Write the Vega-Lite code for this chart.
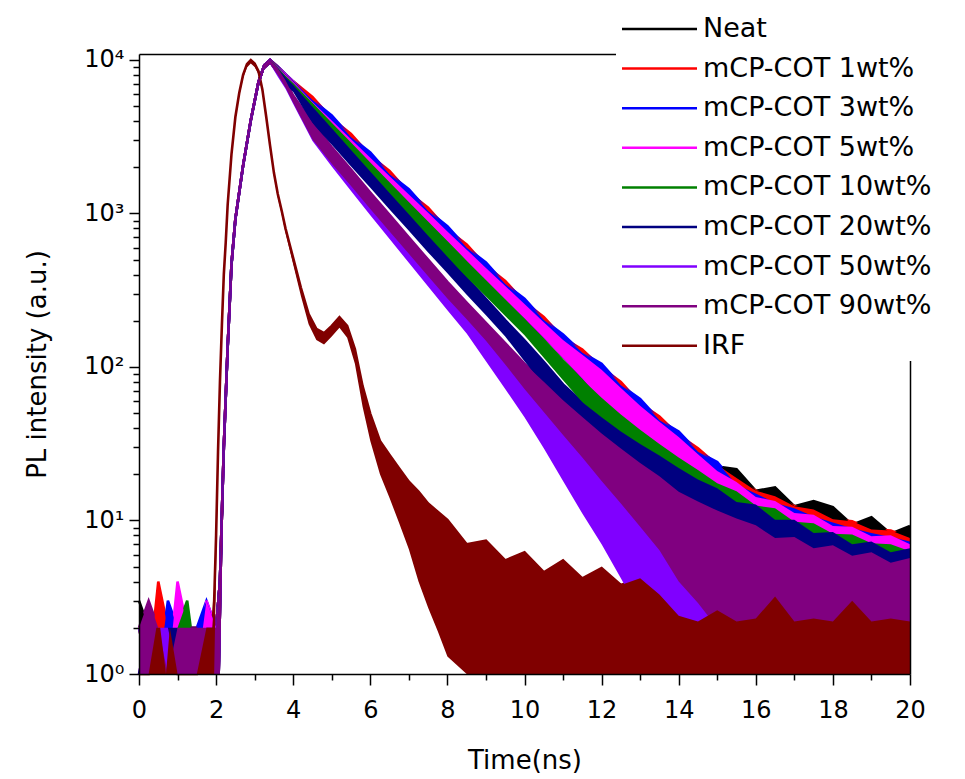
{
"$schema": "https://vega.github.io/schema/vega-lite/v6.json",
"width": 771, "height": 620,
"autosize": "none",
"padding": {"left": 139, "top": 54, "right": 55, "bottom": 105},
"background": "white",
"config": {"view": {"stroke": null}, "axis": {"grid": false}},
"data": {"values": [
{"s":"Neat","t":0,"h":3,"l":1},{"s":"Neat","t":0.25,"h":2,"l":1},{"s":"Neat","t":0.5,"h":1,"l":1},{"s":"Neat","t":0.75,"h":2,"l":1},{"s":"Neat","t":1,"h":1,"l":1},{"s":"Neat","t":1.25,"h":2,"l":1},{"s":"Neat","t":1.5,"h":2,"l":1},{"s":"Neat","t":1.75,"h":1,"l":1},
{"s":"Neat","t":2,"h":2,"l":1},{"s":"Neat","t":2.1,"h":4,"l":1},{"s":"Neat","t":2.2,"h":30,"l":20},{"s":"Neat","t":2.3,"h":135,"l":110},{"s":"Neat","t":2.4,"h":470,"l":420},{"s":"Neat","t":2.5,"h":920,"l":840},{"s":"Neat","t":2.7,"h":2050,"l":1900},{"s":"Neat","t":2.9,"h":4050,"l":3800},{"s":"Neat","t":3.1,"h":7200,"l":6700},{"s":"Neat","t":3.25,"h":9250,"l":8700},{"s":"Neat","t":3.4,"h":10000,"l":9400},
{"s":"Neat","t":3.6,"h":8790,"l":8150},{"s":"Neat","t":3.8,"h":7840,"l":7270},{"s":"Neat","t":4,"h":7040,"l":6530},{"s":"Neat","t":4.5,"h":5160,"l":4270},{"s":"Neat","t":5,"h":3910,"l":3240},{"s":"Neat","t":5.5,"h":2960,"l":2450},{"s":"Neat","t":6,"h":2240,"l":1860},{"s":"Neat","t":6.5,"h":1700,"l":1400},{"s":"Neat","t":7,"h":1290,"l":1070},{"s":"Neat","t":7.5,"h":980,"l":811},{"s":"Neat","t":8,"h":740,"l":614},{"s":"Neat","t":8.5,"h":564,"l":467},{"s":"Neat","t":9,"h":429,"l":356},{"s":"Neat","t":9.5,"h":327,"l":271},{"s":"Neat","t":10,"h":249,"l":207},{"s":"Neat","t":10.5,"h":190,"l":155},{"s":"Neat","t":11,"h":146,"l":114},{"s":"Neat","t":11.5,"h":116,"l":84},{"s":"Neat","t":12,"h":93,"l":60},{"s":"Neat","t":12.5,"h":71,"l":44},{"s":"Neat","t":13,"h":54,"l":31},{"s":"Neat","t":13.5,"h":43,"l":22},{"s":"Neat","t":14,"h":33,"l":15.2},{"s":"Neat","t":14.5,"h":26,"l":10.7},{"s":"Neat","t":15,"h":22.5,"l":7.6},{"s":"Neat","t":15.5,"h":21.6,"l":5.6},{"s":"Neat","t":16,"h":15.6,"l":4.2},{"s":"Neat","t":16.5,"h":16.4,"l":3.1},{"s":"Neat","t":17,"h":12.4,"l":2.4},{"s":"Neat","t":17.5,"h":13.4,"l":1.8},{"s":"Neat","t":18,"h":12.2,"l":1.3},{"s":"Neat","t":18.5,"h":9.4,"l":1},{"s":"Neat","t":19,"h":10.5,"l":1},{"s":"Neat","t":19.5,"h":8.2,"l":1},{"s":"Neat","t":20,"h":9.2,"l":1},

{"s":"1","t":0,"h":2,"l":1},{"s":"1","t":0.25,"h":1,"l":1},{"s":"1","t":0.5,"h":4,"l":1},{"s":"1","t":0.75,"h":2,"l":1},{"s":"1","t":1,"h":1,"l":1},{"s":"1","t":1.25,"h":2,"l":1},{"s":"1","t":1.5,"h":1,"l":1},{"s":"1","t":1.75,"h":2,"l":1},
{"s":"1","t":2,"h":2,"l":1},{"s":"1","t":2.1,"h":4,"l":1},{"s":"1","t":2.2,"h":30,"l":20},{"s":"1","t":2.3,"h":135,"l":110},{"s":"1","t":2.4,"h":470,"l":420},{"s":"1","t":2.5,"h":920,"l":840},{"s":"1","t":2.7,"h":2050,"l":1900},{"s":"1","t":2.9,"h":4050,"l":3800},{"s":"1","t":3.1,"h":7200,"l":6700},{"s":"1","t":3.25,"h":9250,"l":8700},{"s":"1","t":3.4,"h":10000,"l":9400},
{"s":"1","t":3.6,"h":9060,"l":8150},{"s":"1","t":3.8,"h":8080,"l":7270},{"s":"1","t":4,"h":7260,"l":6530},{"s":"1","t":4.5,"h":5750,"l":4270},{"s":"1","t":5,"h":4150,"l":3240},{"s":"1","t":5.5,"h":3300,"l":2450},{"s":"1","t":6,"h":2380,"l":1860},{"s":"1","t":6.5,"h":1890,"l":1400},{"s":"1","t":7,"h":1370,"l":1070},{"s":"1","t":7.5,"h":1090,"l":811},{"s":"1","t":8,"h":787,"l":614},{"s":"1","t":8.5,"h":629,"l":467},{"s":"1","t":9,"h":456,"l":356},{"s":"1","t":9.5,"h":364,"l":271},{"s":"1","t":10,"h":265,"l":207},{"s":"1","t":10.5,"h":212,"l":155},{"s":"1","t":11,"h":155,"l":114},{"s":"1","t":11.5,"h":130,"l":84},{"s":"1","t":12,"h":99,"l":60},{"s":"1","t":12.5,"h":80,"l":44},{"s":"1","t":13,"h":58,"l":31},{"s":"1","t":13.5,"h":47.5,"l":22},{"s":"1","t":14,"h":36,"l":15.2},{"s":"1","t":14.5,"h":29.5,"l":10.7},{"s":"1","t":15,"h":23,"l":7.6},{"s":"1","t":15.5,"h":18.9,"l":5.6},{"s":"1","t":16,"h":15.6,"l":4.2},{"s":"1","t":16.5,"h":14.4,"l":3.1},{"s":"1","t":17,"h":12.4,"l":2.4},{"s":"1","t":17.5,"h":11.8,"l":1.8},{"s":"1","t":18,"h":10.2,"l":1.3},{"s":"1","t":18.5,"h":9.9,"l":1},{"s":"1","t":19,"h":8.75,"l":1},{"s":"1","t":19.5,"h":8.6,"l":1},{"s":"1","t":20,"h":7.7,"l":1},

{"s":"3","t":0,"h":2,"l":1},{"s":"3","t":0.25,"h":2,"l":1},{"s":"3","t":0.5,"h":1,"l":1},{"s":"3","t":0.75,"h":3,"l":1},{"s":"3","t":1,"h":2,"l":1},{"s":"3","t":1.25,"h":1,"l":1},{"s":"3","t":1.5,"h":2,"l":1},{"s":"3","t":1.75,"h":3,"l":1},
{"s":"3","t":2,"h":2,"l":1},{"s":"3","t":2.1,"h":4,"l":1},{"s":"3","t":2.2,"h":30,"l":20},{"s":"3","t":2.3,"h":135,"l":110},{"s":"3","t":2.4,"h":470,"l":420},{"s":"3","t":2.5,"h":920,"l":840},{"s":"3","t":2.7,"h":2050,"l":1900},{"s":"3","t":2.9,"h":4050,"l":3800},{"s":"3","t":3.1,"h":7200,"l":6700},{"s":"3","t":3.25,"h":9250,"l":8700},{"s":"3","t":3.4,"h":10000,"l":9400},
{"s":"3","t":3.6,"h":9060,"l":8150},{"s":"3","t":3.8,"h":8080,"l":7270},{"s":"3","t":4,"h":7260,"l":6530},{"s":"3","t":4.5,"h":5480,"l":4270},{"s":"3","t":5,"h":4360,"l":3240},{"s":"3","t":5.5,"h":3140,"l":2450},{"s":"3","t":6,"h":2500,"l":1860},{"s":"3","t":6.5,"h":1800,"l":1400},{"s":"3","t":7,"h":1440,"l":1070},{"s":"3","t":7.5,"h":1040,"l":811},{"s":"3","t":8,"h":826,"l":614},{"s":"3","t":8.5,"h":599,"l":467},{"s":"3","t":9,"h":479,"l":356},{"s":"3","t":9.5,"h":347,"l":271},{"s":"3","t":10,"h":278,"l":207},{"s":"3","t":10.5,"h":202,"l":155},{"s":"3","t":11,"h":163,"l":114},{"s":"3","t":11.5,"h":124,"l":84},{"s":"3","t":12,"h":105,"l":60},{"s":"3","t":12.5,"h":76,"l":44},{"s":"3","t":13,"h":62,"l":31},{"s":"3","t":13.5,"h":45,"l":22},{"s":"3","t":14,"h":38,"l":15.2},{"s":"3","t":14.5,"h":28,"l":10.7},{"s":"3","t":15,"h":24,"l":7.6},{"s":"3","t":15.5,"h":17.1,"l":5.6},{"s":"3","t":16,"h":15,"l":4.2},{"s":"3","t":16.5,"h":13,"l":3.1},{"s":"3","t":17,"h":12,"l":2.4},{"s":"3","t":17.5,"h":10.6,"l":1.8},{"s":"3","t":18,"h":9.7,"l":1.3},{"s":"3","t":18.5,"h":8.9,"l":1},{"s":"3","t":19,"h":8.3,"l":1},{"s":"3","t":19.5,"h":7.8,"l":1},{"s":"3","t":20,"h":7.3,"l":1},

{"s":"5","t":0,"h":1,"l":1},{"s":"5","t":0.25,"h":2,"l":1},{"s":"5","t":0.5,"h":2,"l":1},{"s":"5","t":0.75,"h":1,"l":1},{"s":"5","t":1,"h":4,"l":1},{"s":"5","t":1.25,"h":2,"l":1},{"s":"5","t":1.5,"h":1,"l":1},{"s":"5","t":1.75,"h":3,"l":1},
{"s":"5","t":2,"h":2,"l":1},{"s":"5","t":2.1,"h":4,"l":1},{"s":"5","t":2.2,"h":30,"l":20},{"s":"5","t":2.3,"h":135,"l":110},{"s":"5","t":2.4,"h":470,"l":420},{"s":"5","t":2.5,"h":920,"l":840},{"s":"5","t":2.7,"h":2050,"l":1900},{"s":"5","t":2.9,"h":4050,"l":3800},{"s":"5","t":3.1,"h":7200,"l":6700},{"s":"5","t":3.25,"h":9250,"l":8700},{"s":"5","t":3.4,"h":10000,"l":9400},
{"s":"5","t":3.6,"h":9000,"l":8150},{"s":"5","t":3.8,"h":8020,"l":7270},{"s":"5","t":4,"h":7200,"l":6530},{"s":"5","t":4.5,"h":5320,"l":4270},{"s":"5","t":5,"h":4030,"l":3240},{"s":"5","t":5.5,"h":3050,"l":2450},{"s":"5","t":6,"h":2310,"l":1860},{"s":"5","t":6.5,"h":1750,"l":1400},{"s":"5","t":7,"h":1330,"l":1070},{"s":"5","t":7.5,"h":1010,"l":811},{"s":"5","t":8,"h":763,"l":614},{"s":"5","t":8.5,"h":581,"l":467},{"s":"5","t":9,"h":442,"l":356},{"s":"5","t":9.5,"h":337,"l":271},{"s":"5","t":10,"h":257,"l":207},{"s":"5","t":10.5,"h":196,"l":155},{"s":"5","t":11,"h":150,"l":114},{"s":"5","t":11.5,"h":120,"l":84},{"s":"5","t":12,"h":96,"l":60},{"s":"5","t":12.5,"h":73,"l":44},{"s":"5","t":13,"h":56,"l":31},{"s":"5","t":13.5,"h":44,"l":22},{"s":"5","t":14,"h":35,"l":15.2},{"s":"5","t":14.5,"h":27,"l":10.7},{"s":"5","t":15,"h":21,"l":7.6},{"s":"5","t":15.5,"h":17.8,"l":5.6},{"s":"5","t":16,"h":14.2,"l":4.2},{"s":"5","t":16.5,"h":13.4,"l":3.1},{"s":"5","t":17,"h":11.2,"l":2.4},{"s":"5","t":17.5,"h":10.9,"l":1.8},{"s":"5","t":18,"h":9.2,"l":1.3},{"s":"5","t":18.5,"h":9.1,"l":1},{"s":"5","t":19,"h":7.9,"l":1},{"s":"5","t":19.5,"h":8,"l":1},{"s":"5","t":20,"h":7,"l":1},

{"s":"10","t":0,"h":2,"l":1},{"s":"10","t":0.25,"h":1,"l":1},{"s":"10","t":0.5,"h":2,"l":1},{"s":"10","t":0.75,"h":1,"l":1},{"s":"10","t":1,"h":2,"l":1},{"s":"10","t":1.25,"h":3,"l":1},{"s":"10","t":1.5,"h":1,"l":1},{"s":"10","t":1.75,"h":2,"l":1},
{"s":"10","t":2,"h":2,"l":1},{"s":"10","t":2.1,"h":4,"l":1},{"s":"10","t":2.2,"h":30,"l":20},{"s":"10","t":2.3,"h":135,"l":110},{"s":"10","t":2.4,"h":470,"l":420},{"s":"10","t":2.5,"h":920,"l":840},{"s":"10","t":2.7,"h":2050,"l":1900},{"s":"10","t":2.9,"h":4050,"l":3800},{"s":"10","t":3.1,"h":7200,"l":6700},{"s":"10","t":3.25,"h":9250,"l":8700},{"s":"10","t":3.4,"h":10000,"l":9400},
{"s":"10","t":3.6,"h":8950,"l":8060},{"s":"10","t":3.8,"h":7890,"l":7100},{"s":"10","t":4,"h":7090,"l":6380},{"s":"10","t":4.5,"h":5260,"l":4100},{"s":"10","t":5,"h":3900,"l":3040},{"s":"10","t":5.5,"h":2900,"l":2260},{"s":"10","t":6,"h":2150,"l":1680},{"s":"10","t":6.5,"h":1600,"l":1250},{"s":"10","t":7,"h":1190,"l":928},{"s":"10","t":7.5,"h":887,"l":692},{"s":"10","t":8,"h":661,"l":516},{"s":"10","t":8.5,"h":493,"l":385},{"s":"10","t":9,"h":369,"l":288},{"s":"10","t":9.5,"h":276,"l":215},{"s":"10","t":10,"h":207,"l":161},{"s":"10","t":10.5,"h":150,"l":115},{"s":"10","t":11,"h":110,"l":82},{"s":"10","t":11.5,"h":83,"l":59},{"s":"10","t":12,"h":63,"l":43},{"s":"10","t":12.5,"h":49,"l":31},{"s":"10","t":13,"h":39,"l":23},{"s":"10","t":13.5,"h":31.5,"l":16.8},{"s":"10","t":14,"h":25.7,"l":12.3},{"s":"10","t":14.5,"h":21.3,"l":9.1},{"s":"10","t":15,"h":17.5,"l":6.2},{"s":"10","t":15.5,"h":15.5,"l":4.6},{"s":"10","t":16,"h":12.5,"l":3.4},{"s":"10","t":16.5,"h":12,"l":2.5},{"s":"10","t":17,"h":9.8,"l":1.8},{"s":"10","t":17.5,"h":9.6,"l":1.3},{"s":"10","t":18,"h":8.2,"l":1},{"s":"10","t":18.5,"h":8.1,"l":1},{"s":"10","t":19,"h":7.1,"l":1},{"s":"10","t":19.5,"h":7,"l":1},{"s":"10","t":20,"h":6.3,"l":1},

{"s":"20","t":0,"h":1,"l":1},{"s":"20","t":0.25,"h":2,"l":1},{"s":"20","t":0.5,"h":1,"l":1},{"s":"20","t":0.75,"h":2,"l":1},{"s":"20","t":1,"h":2,"l":1},{"s":"20","t":1.25,"h":1,"l":1},{"s":"20","t":1.5,"h":2,"l":1},{"s":"20","t":1.75,"h":1,"l":1},
{"s":"20","t":2,"h":2,"l":1},{"s":"20","t":2.1,"h":4,"l":1},{"s":"20","t":2.2,"h":30,"l":20},{"s":"20","t":2.3,"h":135,"l":110},{"s":"20","t":2.4,"h":470,"l":420},{"s":"20","t":2.5,"h":920,"l":840},{"s":"20","t":2.7,"h":2050,"l":1900},{"s":"20","t":2.9,"h":4050,"l":3800},{"s":"20","t":3.1,"h":7200,"l":6700},{"s":"20","t":3.25,"h":9250,"l":8700},{"s":"20","t":3.4,"h":10000,"l":9400},
{"s":"20","t":3.6,"h":8850,"l":7970},{"s":"20","t":3.8,"h":7720,"l":6950},{"s":"20","t":4,"h":6880,"l":6190},{"s":"20","t":4.5,"h":4950,"l":3860},{"s":"20","t":5,"h":3590,"l":2800},{"s":"20","t":5.5,"h":2590,"l":2020},{"s":"20","t":6,"h":1880,"l":1470},{"s":"20","t":6.5,"h":1360,"l":1060},{"s":"20","t":7,"h":988,"l":771},{"s":"20","t":7.5,"h":715,"l":558},{"s":"20","t":8,"h":523,"l":408},{"s":"20","t":8.5,"h":380,"l":296},{"s":"20","t":9,"h":278,"l":217},{"s":"20","t":9.5,"h":202,"l":158},{"s":"20","t":10,"h":149,"l":109},{"s":"20","t":10.5,"h":108,"l":76},{"s":"20","t":11,"h":77,"l":54},{"s":"20","t":11.5,"h":59,"l":39},{"s":"20","t":12,"h":47,"l":28.8},{"s":"20","t":12.5,"h":38,"l":21.6},{"s":"20","t":13,"h":31.5,"l":16.5},{"s":"20","t":13.5,"h":26.5,"l":12.5},{"s":"20","t":14,"h":22,"l":9.4},{"s":"20","t":14.5,"h":18.5,"l":6.9},{"s":"20","t":15,"h":16.2,"l":5.1},{"s":"20","t":15.5,"h":13.2,"l":3.7},{"s":"20","t":16,"h":12.7,"l":2.6},{"s":"20","t":16.5,"h":10.1,"l":1.8},{"s":"20","t":17,"h":10.1,"l":1.3},{"s":"20","t":17.5,"h":8.3,"l":1},{"s":"20","t":18,"h":8.4,"l":1},{"s":"20","t":18.5,"h":7,"l":1},{"s":"20","t":19,"h":7.3,"l":1},{"s":"20","t":19.5,"h":6.2,"l":1},{"s":"20","t":20,"h":6.6,"l":1},

{"s":"50","t":0,"h":2,"l":1},{"s":"50","t":0.25,"h":1,"l":1},{"s":"50","t":0.5,"h":2,"l":1},{"s":"50","t":0.75,"h":2,"l":1},{"s":"50","t":1,"h":1,"l":1},{"s":"50","t":1.25,"h":2,"l":1},{"s":"50","t":1.5,"h":1,"l":1},{"s":"50","t":1.75,"h":2,"l":1},
{"s":"50","t":2,"h":2,"l":1},{"s":"50","t":2.1,"h":4,"l":1},{"s":"50","t":2.2,"h":30,"l":20},{"s":"50","t":2.3,"h":135,"l":110},{"s":"50","t":2.4,"h":470,"l":420},{"s":"50","t":2.5,"h":920,"l":840},{"s":"50","t":2.7,"h":2050,"l":1900},{"s":"50","t":2.9,"h":4050,"l":3800},{"s":"50","t":3.1,"h":7200,"l":6700},{"s":"50","t":3.25,"h":9250,"l":8700},{"s":"50","t":3.4,"h":10000,"l":9400},
{"s":"50","t":3.6,"h":8650,"l":7790},{"s":"50","t":3.8,"h":7210,"l":6490},{"s":"50","t":4,"h":5730,"l":5160},{"s":"50","t":4.5,"h":3810,"l":2970},{"s":"50","t":5,"h":2590,"l":2020},{"s":"50","t":5.5,"h":1800,"l":1400},{"s":"50","t":6,"h":1250,"l":975},{"s":"50","t":6.5,"h":875,"l":683},{"s":"50","t":7,"h":611,"l":477},{"s":"50","t":7.5,"h":428,"l":334},{"s":"50","t":8,"h":300,"l":234},{"s":"50","t":8.5,"h":212,"l":165},{"s":"50","t":9,"h":149,"l":109},{"s":"50","t":9.5,"h":105,"l":72},{"s":"50","t":10,"h":75,"l":47},{"s":"50","t":10.5,"h":52.5,"l":29.6},{"s":"50","t":11,"h":36.9,"l":18.1},{"s":"50","t":11.5,"h":26.7,"l":11.1},{"s":"50","t":12,"h":19.4,"l":7},{"s":"50","t":12.5,"h":14.5,"l":4.2},{"s":"50","t":13,"h":11.2,"l":2.5},{"s":"50","t":13.5,"h":9.2,"l":1.5},{"s":"50","t":14,"h":7.8,"l":1},{"s":"50","t":14.5,"h":6.7,"l":1},{"s":"50","t":15,"h":6,"l":1},{"s":"50","t":15.5,"h":5.6,"l":1},{"s":"50","t":16,"h":5.3,"l":1},{"s":"50","t":16.5,"h":5.2,"l":1},{"s":"50","t":17,"h":5,"l":1},{"s":"50","t":17.5,"h":4.9,"l":1},{"s":"50","t":18,"h":4.9,"l":1},{"s":"50","t":18.5,"h":4.9,"l":1},{"s":"50","t":19,"h":4.9,"l":1},{"s":"50","t":19.5,"h":4.9,"l":1},{"s":"50","t":20,"h":4.9,"l":1},

{"s":"90","t":0,"h":2,"l":1},{"s":"90","t":0.25,"h":3,"l":1},{"s":"90","t":0.5,"h":2,"l":1},{"s":"90","t":0.75,"h":1,"l":1},{"s":"90","t":1,"h":2,"l":1},{"s":"90","t":1.25,"h":2,"l":1},{"s":"90","t":1.5,"h":2,"l":1},{"s":"90","t":1.75,"h":2,"l":1},
{"s":"90","t":2,"h":2,"l":1},{"s":"90","t":2.1,"h":4,"l":1},{"s":"90","t":2.2,"h":30,"l":20},{"s":"90","t":2.3,"h":135,"l":110},{"s":"90","t":2.4,"h":470,"l":420},{"s":"90","t":2.5,"h":920,"l":840},{"s":"90","t":2.7,"h":2050,"l":1900},{"s":"90","t":2.9,"h":4050,"l":3800},{"s":"90","t":3.1,"h":7200,"l":6700},{"s":"90","t":3.25,"h":9250,"l":8700},{"s":"90","t":3.4,"h":10000,"l":9400},
{"s":"90","t":3.6,"h":8850,"l":7970},{"s":"90","t":3.8,"h":7370,"l":6630},{"s":"90","t":4,"h":5860,"l":5270},{"s":"90","t":4.5,"h":3890,"l":3030},{"s":"90","t":5,"h":2710,"l":2110},{"s":"90","t":5.5,"h":1930,"l":1510},{"s":"90","t":6,"h":1370,"l":1070},{"s":"90","t":6.5,"h":979,"l":764},{"s":"90","t":7,"h":700,"l":546},{"s":"90","t":7.5,"h":500,"l":390},{"s":"90","t":8,"h":358,"l":279},{"s":"90","t":8.5,"h":263,"l":205},{"s":"90","t":9,"h":194,"l":148},{"s":"90","t":9.5,"h":143,"l":104},{"s":"90","t":10,"h":105,"l":72},{"s":"90","t":10.5,"h":80,"l":51},{"s":"90","t":11,"h":60.7,"l":36},{"s":"90","t":11.5,"h":47.2,"l":25.7},{"s":"90","t":12,"h":36.9,"l":18.1},{"s":"90","t":12.5,"h":29.5,"l":12.9},{"s":"90","t":13,"h":23.7,"l":9.1},{"s":"90","t":13.5,"h":19.4,"l":6.4},{"s":"90","t":14,"h":15.4,"l":4},{"s":"90","t":14.5,"h":13.3,"l":2.9},{"s":"90","t":15,"h":11.6,"l":2},{"s":"90","t":15.5,"h":10.3,"l":1.4},{"s":"90","t":16,"h":9.3,"l":1},{"s":"90","t":16.5,"h":7.7,"l":1},{"s":"90","t":17,"h":7.8,"l":1},{"s":"90","t":17.5,"h":6.6,"l":1},{"s":"90","t":18,"h":6.9,"l":1},{"s":"90","t":18.5,"h":5.9,"l":1},{"s":"90","t":19,"h":6.2,"l":1},{"s":"90","t":19.5,"h":5.3,"l":1},{"s":"90","t":20,"h":5.7,"l":1},

{"s":"IRF","t":0,"h":1,"l":1},{"s":"IRF","t":0.25,"h":1,"l":1},{"s":"IRF","t":0.45,"h":2,"l":1},{"s":"IRF","t":0.55,"h":2,"l":1},{"s":"IRF","t":0.7,"h":1,"l":1},{"s":"IRF","t":0.8,"h":2,"l":1},{"s":"IRF","t":1,"h":1,"l":1},{"s":"IRF","t":1.25,"h":1,"l":1},{"s":"IRF","t":1.5,"h":1,"l":1},{"s":"IRF","t":1.75,"h":2,"l":1},{"s":"IRF","t":1.85,"h":2,"l":1},
{"s":"IRF","t":1.9,"h":2,"l":1},{"s":"IRF","t":1.95,"h":3,"l":1},{"s":"IRF","t":2,"h":8,"l":5},{"s":"IRF","t":2.05,"h":28,"l":22},{"s":"IRF","t":2.1,"h":80,"l":68},{"s":"IRF","t":2.15,"h":186,"l":165},{"s":"IRF","t":2.2,"h":400,"l":370},{"s":"IRF","t":2.25,"h":650,"l":610},{"s":"IRF","t":2.3,"h":1140,"l":1080},{"s":"IRF","t":2.4,"h":2450,"l":2330},{"s":"IRF","t":2.5,"h":4250,"l":4040},{"s":"IRF","t":2.6,"h":6100,"l":5800},{"s":"IRF","t":2.7,"h":8000,"l":7600},{"s":"IRF","t":2.8,"h":9400,"l":8950},{"s":"IRF","t":2.9,"h":10000,"l":9500},{"s":"IRF","t":3,"h":9480,"l":9000},{"s":"IRF","t":3.1,"h":8450,"l":8030},{"s":"IRF","t":3.2,"h":6430,"l":6110},{"s":"IRF","t":3.3,"h":4270,"l":4060},{"s":"IRF","t":3.4,"h":2770,"l":2630},{"s":"IRF","t":3.5,"h":1840,"l":1750},{"s":"IRF","t":3.6,"h":1340,"l":1270},{"s":"IRF","t":3.7,"h":1047,"l":990},{"s":"IRF","t":3.8,"h":800,"l":750},{"s":"IRF","t":3.9,"h":640,"l":590},{"s":"IRF","t":4,"h":512,"l":465},{"s":"IRF","t":4.2,"h":328,"l":290},{"s":"IRF","t":4.4,"h":221,"l":190},{"s":"IRF","t":4.6,"h":177,"l":150},{"s":"IRF","t":4.8,"h":166,"l":140},{"s":"IRF","t":5,"h":185,"l":158},{"s":"IRF","t":5.2,"h":211,"l":180},{"s":"IRF","t":5.4,"h":185,"l":155},{"s":"IRF","t":5.6,"h":131,"l":105},{"s":"IRF","t":5.8,"h":75,"l":55},{"s":"IRF","t":6,"h":49.5,"l":33},{"s":"IRF","t":6.25,"h":33,"l":20},{"s":"IRF","t":6.5,"h":26.7,"l":14},{"s":"IRF","t":6.75,"h":21.8,"l":9.6},{"s":"IRF","t":7,"h":17.9,"l":6.5},{"s":"IRF","t":7.25,"h":15.4,"l":4},{"s":"IRF","t":7.5,"h":12.9,"l":2.7},{"s":"IRF","t":7.75,"h":11.4,"l":1.9},{"s":"IRF","t":8,"h":10.1,"l":1.3},{"s":"IRF","t":8.5,"h":7,"l":1},{"s":"IRF","t":9,"h":7.4,"l":1},{"s":"IRF","t":9.5,"h":5.5,"l":1},{"s":"IRF","t":10,"h":6.2,"l":1},{"s":"IRF","t":10.5,"h":4.6,"l":1},{"s":"IRF","t":11,"h":5.5,"l":1},{"s":"IRF","t":11.5,"h":4.2,"l":1},{"s":"IRF","t":12,"h":4.9,"l":1},{"s":"IRF","t":12.5,"h":3.8,"l":1},{"s":"IRF","t":13,"h":4.2,"l":1},{"s":"IRF","t":13.5,"h":3.3,"l":1},{"s":"IRF","t":14,"h":2.4,"l":1},{"s":"IRF","t":14.5,"h":2.2,"l":1},{"s":"IRF","t":15,"h":2.6,"l":1},{"s":"IRF","t":15.5,"h":2.2,"l":1},{"s":"IRF","t":16,"h":2.3,"l":1},{"s":"IRF","t":16.5,"h":3.2,"l":1},{"s":"IRF","t":17,"h":2.2,"l":1},{"s":"IRF","t":17.5,"h":2.3,"l":1},{"s":"IRF","t":18,"h":2.2,"l":1},{"s":"IRF","t":18.5,"h":3,"l":1},{"s":"IRF","t":19,"h":2.2,"l":1},{"s":"IRF","t":19.5,"h":2.3,"l":1},{"s":"IRF","t":20,"h":2.2,"l":1}
]},
"layer": [
{
"mark": {"type": "line", "strokeWidth": 2.6, "interpolate": "linear"},
"encoding": {
"x": {"field": "t", "type": "quantitative", "scale": {"domain": [0, 20], "nice": false, "zero": false},
 "axis": {"orient": "bottom", "values": [0,1,2,3,4,5,6,7,8,9,10,11,12,13,14,15,16,17,18,19,20],
  "labelExpr": "datum.value % 2 == 0 ? datum.label : ''",
  "tickSize": {"condition": {"test": "datum.value % 2 == 0", "value": 11}, "value": 6},
  "tickColor": "black", "tickWidth": 1.5, "domainColor": "black", "domainWidth": 1.5,
  "labelFont": "DejaVu Sans", "labelFontSize": 24, "labelColor": "black", "labelPadding": 13,
  "labelFlush": false, "labelOverlap": false,
  "title": "Time(ns)", "titleFont": "DejaVu Sans", "titleFontSize": 26, "titleFontWeight": "normal", "titleColor": "black", "titlePadding": 25,
  "grid": false, "zindex": 1}},
"y": {"field": "h", "type": "quantitative", "scale": {"type": "log", "domain": [1, 10940], "nice": false},
 "axis": {"orient": "left", "values": [1,2,3,4,5,6,7,8,9,10,20,30,40,50,60,70,80,90,100,200,300,400,500,600,700,800,900,1000,2000,3000,4000,5000,6000,7000,8000,9000,10000],
  "labelExpr": "datum.value == 1 ? '10⁰' : datum.value == 10 ? '10¹' : datum.value == 100 ? '10²' : datum.value == 1000 ? '10³' : datum.value == 10000 ? '10⁴' : ''",
  "tickSize": {"condition": {"test": "indexof([1,10,100,1000,10000], datum.value) >= 0", "value": 10}, "value": 6},
  "tickColor": "black", "tickWidth": 1.5, "domainColor": "black", "domainWidth": 1.5,
  "labelFont": "DejaVu Sans", "labelFontSize": 24, "labelColor": "black", "labelPadding": 5,
  "labelFlush": false, "labelOverlap": false,
  "title": "PL intensity (a.u.)", "titleFont": "DejaVu Sans", "titleFontSize": 26, "titleFontWeight": "normal", "titleColor": "black", "titlePadding": 33,
  "grid": false, "zindex": 1}},
"color": {"field": "s", "type": "nominal",
 "scale": {"domain": ["Neat","1","3","5","10","20","50","90","IRF"], "range": ["#000000","#ff0000","#0000ff","#ff00ff","#008000","#000080","#8000ff","#800080","#800000"]},
 "legend": {"orient": "none", "legendX": 477, "legendY": -41, "title": null,
  "symbolType": "M-0.8,0H5.2", "symbolSize": 625, "symbolStrokeWidth": 2.5,
  "labelFont": "DejaVu Sans", "labelFontSize": 27, "labelColor": "black", "labelOffset": 57, "labelLimit": 400,
  "rowPadding": 12.6, "padding": 2, "fillColor": "white", "zindex": 2,
  "labelExpr": "datum.label == 'Neat' || datum.label == 'IRF' ? datum.label : 'mCP-COT ' + datum.label + 'wt%'"}}
}
},
{
"mark": {"type": "area", "interpolate": "linear", "opacity": 1},
"encoding": {
"x": {"field": "t", "type": "quantitative", "scale": {"domain": [0, 20], "nice": false, "zero": false},
 "axis": {"orient": "top", "ticks": false, "labels": false, "title": null, "domainColor": "black", "domainWidth": 1.5, "grid": false, "zindex": 1}},
"y": {"field": "h", "type": "quantitative", "scale": {"type": "log", "domain": [1, 10940], "nice": false},
 "axis": {"orient": "right", "ticks": false, "labels": false, "title": null, "domainColor": "black", "domainWidth": 1.5, "grid": false, "zindex": 1}},
"y2": {"field": "l"},
"color": {"field": "s", "type": "nominal",
 "scale": {"domain": ["Neat","1","3","5","10","20","50","90","IRF"], "range": ["#000000","#ff0000","#0000ff","#ff00ff","#008000","#000080","#8000ff","#800080","#800000"]},
 "legend": null}
}
}
],
"resolve": {"axis": {"x": "independent", "y": "independent"}}
}
